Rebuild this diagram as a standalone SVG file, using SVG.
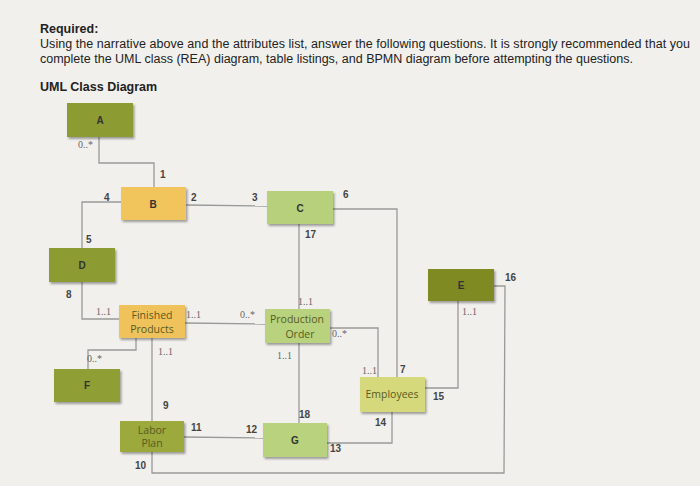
<svg xmlns="http://www.w3.org/2000/svg" width="700" height="486" viewBox="0 0 700 486">
<defs>
<filter id="sh" x="-10%" y="-10%" width="130%" height="140%"><feDropShadow dx="1.5" dy="2" stdDeviation="1.2" flood-color="#000" flood-opacity="0.35"/></filter>
<style>
.hd{font-family:"Liberation Sans",Arial,sans-serif;font-size:12.5px;fill:#222}
.b{font-weight:bold}
.n{filter:url(#sh)}
.nt{font-family:"Liberation Sans",Arial,sans-serif;font-size:10px;font-weight:bold;fill:#333;text-anchor:middle}
.nl{font-family:"Open Sans","Liberation Sans",sans-serif;font-size:10.5px;fill:#5a5a20;text-anchor:middle}
.lb{font-family:"Liberation Sans",Arial,sans-serif;font-size:10px;font-weight:bold;fill:#444}
.ml{font-family:"Liberation Serif",serif;font-size:10px;fill:#666}
.c{fill:none;stroke:#999;stroke-width:1.3}
</style>
</defs>
<rect width="700" height="486" fill="#f1f0ed"/>
<text class="hd b" x="40" y="33">Required:</text>
<text class="hd" x="40" y="48" textLength="650">Using the narrative above and the attributes list, answer the following questions. It is strongly recommended that you</text>
<text class="hd" x="40" y="63" textLength="593">complete the UML class (REA) diagram, table listings, and BPMN diagram before attempting the questions.</text>
<text class="hd b" x="40" y="91">UML Class Diagram</text>
<g id="connectors">
<polyline class="c" points="99,137 99,163 154,163 154,187"/>
<line class="c" x1="186" y1="205" x2="267" y2="206"/>
<polyline class="c" points="121,202 82,202 82,248"/>
<polyline class="c" points="333,209 397,209 397,377"/>
<line class="c" x1="299" y1="224" x2="299" y2="309"/>
<polyline class="c" points="82,282 82,319 119,319"/>
<line class="c" x1="185" y1="323" x2="265" y2="324"/>
<polyline class="c" points="136,338 136,350 88,350 88,369"/>
<line class="c" x1="152" y1="338" x2="152" y2="421"/>
<polyline class="c" points="152,452 152,473 504,473 505,286 494,286"/>
<line class="c" x1="184" y1="437" x2="263" y2="438"/>
<line class="c" x1="299" y1="343" x2="299" y2="423"/>
<polyline class="c" points="330,328 378,328 378,377"/>
<polyline class="c" points="327,443 392,443 392,412"/>
<polyline class="c" points="425,388 458,388 458,301"/>
</g>
<g id="A"><rect class="n" x="67" y="103" width="66" height="34" fill="#8c9c30"/><text class="nt" x="100" y="124">A</text></g>
<g id="B"><rect class="n" x="121" y="187" width="65" height="33" fill="#f1c45c"/><text class="nt" x="153" y="208">B</text></g>
<g id="C"><rect class="n" x="267" y="191" width="66" height="33" fill="#b6d07c"/><text class="nt" x="300" y="212">C</text></g>
<g id="D"><rect class="n" x="49" y="248" width="66" height="34" fill="#8c9c30"/><text class="nt" x="82" y="269">D</text></g>
<g id="E"><rect class="n" x="428" y="269" width="66" height="32" fill="#7f8b24"/><text class="nt" x="461" y="289">E</text></g>
<g id="FinishedProducts"><rect class="n" x="119" y="305" width="66" height="33" fill="#f0c25c"/><text class="nl" x="152" y="319">Finished</text><text class="nl" x="152" y="333">Products</text></g>
<g id="ProductionOrder"><rect class="n" x="265" y="309" width="65" height="34" fill="#b8d27e"/><text class="nl" x="297" y="323">Production</text><text class="nl" x="300" y="338">Order</text></g>
<g id="F"><rect class="n" x="54" y="369" width="66" height="33" fill="#8f9f34"/><text class="nt" x="87" y="389">F</text></g>
<g id="LaborPlan"><rect class="n" x="120" y="421" width="64" height="31" fill="#9ba93c"/><text class="nl" x="152" y="434">Labor</text><text class="nl" x="152" y="447">Plan</text></g>
<g id="G"><rect class="n" x="263" y="423" width="64" height="34" fill="#b8d27e"/><text class="nt" x="295" y="444">G</text></g>
<g id="Employees"><rect class="n" x="360" y="377" width="65" height="35" fill="#d6d87c"/><text class="nl" x="392" y="398">Employees</text></g>
<g id="labels">
<text class="ml" x="78" y="148">0..*</text>
<text class="lb" x="160" y="178">1</text>
<text class="lb" x="104" y="201">4</text>
<text class="lb" x="191" y="201">2</text>
<text class="lb" x="252" y="201">3</text>
<text class="lb" x="343" y="198">6</text>
<text class="lb" x="305" y="238">17</text>
<text class="lb" x="86" y="243">5</text>
<text class="lb" x="66" y="298">8</text>
<text class="lb" x="505" y="281">16</text>
<text class="ml" x="462" y="315">1..1</text>
<text class="ml" x="96" y="315">1..1</text>
<text class="ml" x="186" y="318">1..1</text>
<text class="ml" x="240" y="318">0..*</text>
<text class="ml" x="298" y="305">1..1</text>
<text class="ml" x="332" y="337">0..*</text>
<text class="ml" x="158" y="355">1..1</text>
<text class="ml" x="277" y="359">1..1</text>
<text class="ml" x="87" y="362">0..*</text>
<text class="ml" x="362" y="374">1..1</text>
<text class="lb" x="400" y="373">7</text>
<text class="lb" x="433" y="400">15</text>
<text class="lb" x="375" y="426">14</text>
<text class="lb" x="299" y="418">18</text>
<text class="lb" x="163" y="409">9</text>
<text class="lb" x="191" y="431">11</text>
<text class="lb" x="246" y="433">12</text>
<text class="lb" x="330" y="452">13</text>
<text class="lb" x="135" y="469">10</text>
</g>
</svg>
